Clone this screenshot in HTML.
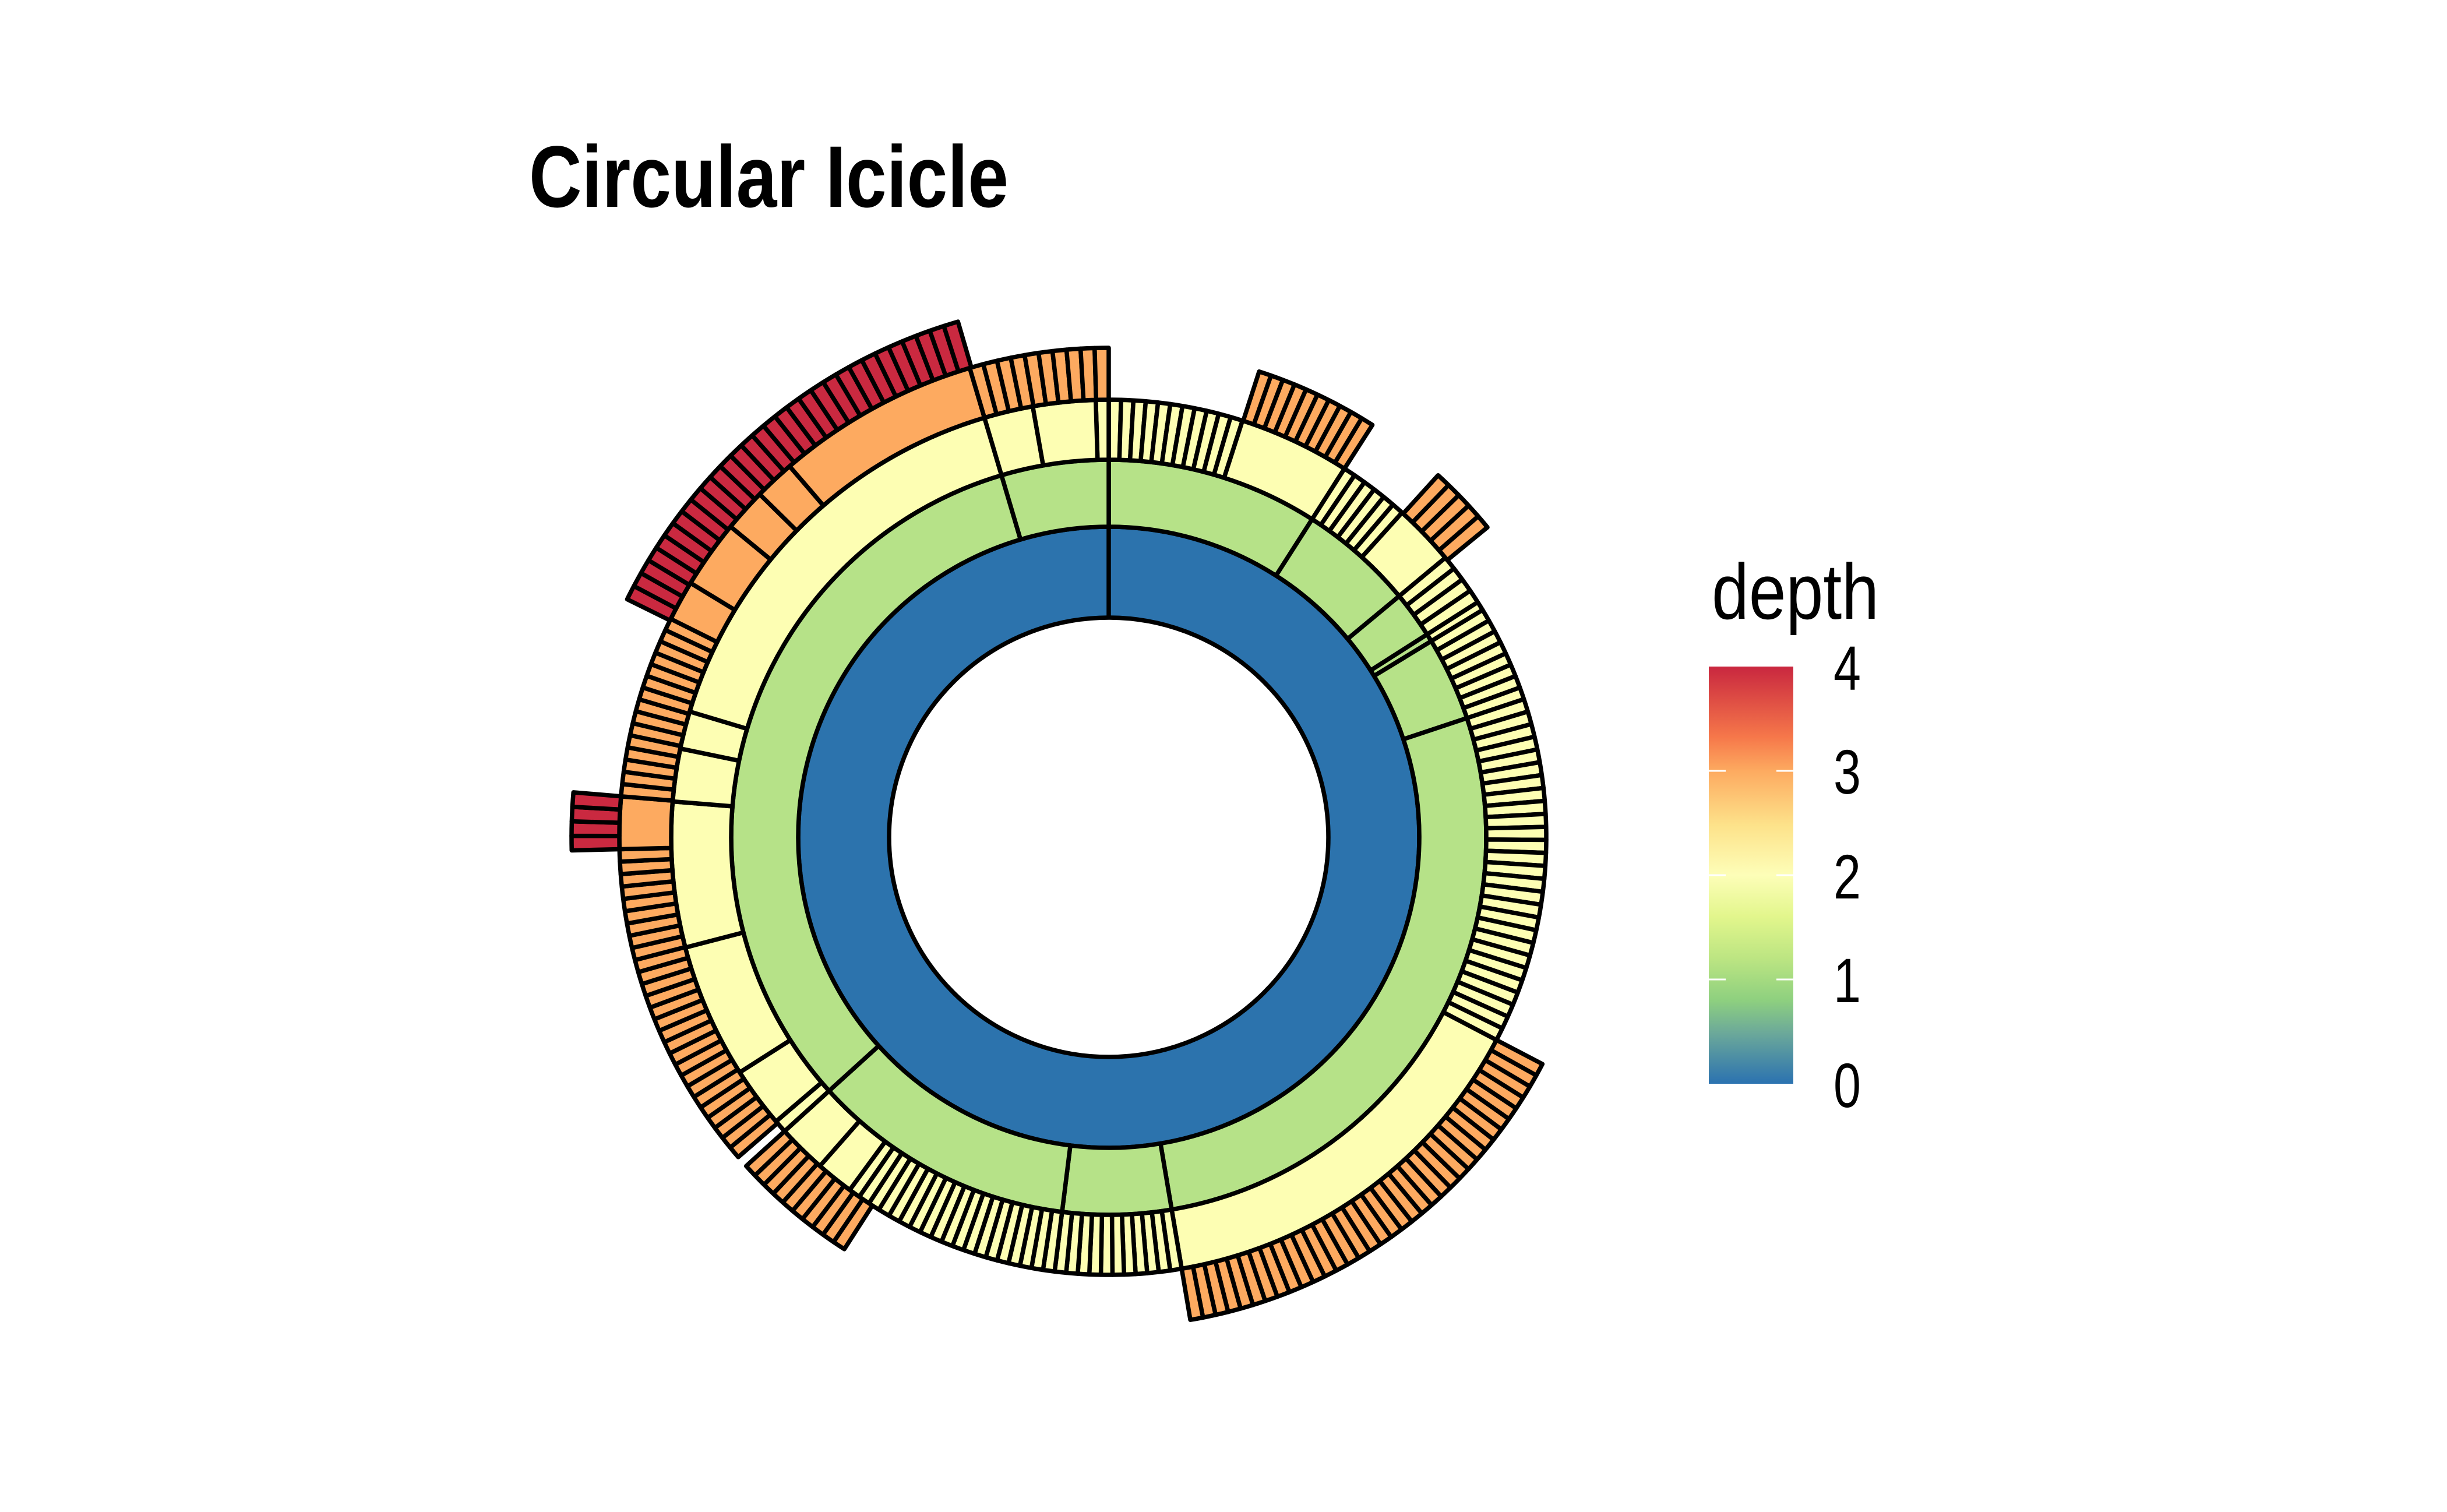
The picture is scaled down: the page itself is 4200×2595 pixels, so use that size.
<!DOCTYPE html>
<html><head><meta charset="utf-8"><style>
html,body{margin:0;padding:0;background:#fff;}
svg{display:block;}
</style></head><body>
<svg id="s" xmlns="http://www.w3.org/2000/svg" width="4200" height="2595" viewBox="0 0 4200 2595">
<defs>
<linearGradient id="lg" x1="0" y1="1" x2="0" y2="0">
<stop offset="0" stop-color="#2B72B0"/>
<stop offset="0.12" stop-color="#6BA89A"/>
<stop offset="0.2" stop-color="#8ED07F"/>
<stop offset="0.3" stop-color="#BCE582"/>
<stop offset="0.4" stop-color="#E2F68C"/>
<stop offset="0.5" stop-color="#FDFEB8"/>
<stop offset="0.62" stop-color="#FDE28A"/>
<stop offset="0.75" stop-color="#FDAA60"/>
<stop offset="0.83" stop-color="#F6784A"/>
<stop offset="1" stop-color="#C9273F"/>
</linearGradient>
</defs>
<rect width="4200" height="2595" fill="#fff"/>
<g id="chart"></g>
<text x="908" y="355" font-family="Liberation Sans, sans-serif" font-weight="bold" font-size="150" textLength="823" lengthAdjust="spacingAndGlyphs">Circular Icicle</text>
<text x="2938" y="1062" font-family="Liberation Sans, sans-serif" font-size="135" textLength="287" lengthAdjust="spacingAndGlyphs">depth</text>
<rect x="2933" y="1144" width="145" height="716" fill="url(#lg)"/>
<g stroke="#fff" stroke-width="3">
<line x1="2933" y1="1323" x2="2962" y2="1323"/><line x1="3049" y1="1323" x2="3078" y2="1323"/>
<line x1="2933" y1="1502" x2="2962" y2="1502"/><line x1="3049" y1="1502" x2="3078" y2="1502"/>
<line x1="2933" y1="1681" x2="2962" y2="1681"/><line x1="3049" y1="1681" x2="3078" y2="1681"/>
</g>
<g font-family="Liberation Sans, sans-serif" font-size="108">
<text x="3147" y="1184" textLength="47" lengthAdjust="spacingAndGlyphs">4</text>
<text x="3147" y="1362" textLength="47" lengthAdjust="spacingAndGlyphs">3</text>
<text x="3147" y="1542" textLength="47" lengthAdjust="spacingAndGlyphs">2</text>
<text x="3147" y="1720" textLength="47" lengthAdjust="spacingAndGlyphs">1</text>
<text x="3147" y="1900" textLength="47" lengthAdjust="spacingAndGlyphs">0</text>
</g>
</svg>
<script>
(function(){
var cx=1903, cy=1437;
var R=[377,533,648,751,840,922];
var C=["#2C73AD","#B6E288","#FDFEB3","#FDAA60","#CA2940"];
var SW=7.5;
function pt(r,a){var t=a*Math.PI/180;return (cx+r*Math.sin(t)).toFixed(2)+","+(cy-r*Math.cos(t)).toFixed(2);}
function wedge(d,a1,a2){
  var r1=R[d],r2=R[d+1];var large=(a2-a1)>180?1:0;
  return "M"+pt(r1,a1)+" L"+pt(r2,a1)+" A"+r2+","+r2+" 0 "+large+" 1 "+pt(r2,a2)+" L"+pt(r1,a2)+" A"+r1+","+r1+" 0 "+large+" 0 "+pt(r1,a1)+" Z";
}
var segs=[
 [1,0,32.6],[1,32.6,50.3],[1,50.3,57.5],[1,57.5,58.7],[1,58.7,71.6],[1,71.6,170.4],[1,170.4,187.1],[1,187.1,227.8],[1,227.8,343.5],[1,343.5,360],
 [2,0,17.8,11],[2,358.3,360,1],[2,17.8,32.6],[2,32.6,42.1,6],[2,42.1,50.3],[2,50.3,57.5,4],[2,57.5,58.7,1],[2,58.7,71.6,8],[2,71.6,117.6,27],
 [2,117.6,170.4],[2,170.4,187.1,11],[2,187.1,216.3,19],[2,216.3,221.3],[2,221.3,227.8],[2,227.8,229.5],[2,229.5,237.5],[2,237.5,255.4],
 [2,255.4,274.7],[2,274.7,281.7],[2,281.7,286.7],[2,286.7,343.5],[2,343.5,350],[2,350,358.3],
 [3,17.9,32.6,10],[3,42.3,50.7,5],[3,117.6,170.4,35],[3,212.7,227.8,10],[3,229.2,268.6,27],[3,268.6,274.8],[3,274.8,296.5,15],
 [3,296.5,301.3],[3,301.3,309.4],[3,309.4,314.5],[3,314.5,319.3],[3,319.3,343.5],[3,343.5,360,10],
 [4,268.6,274.8,4],[4,296.3,343.7,30]
];
var out=[];
out.push('<path d="M'+(cx-R[1])+','+cy+' a'+R[1]+','+R[1]+' 0 1 0 '+(2*R[1])+',0 a'+R[1]+','+R[1]+' 0 1 0 '+(-2*R[1])+',0 Z M'+(cx-R[0])+','+cy+' a'+R[0]+','+R[0]+' 0 1 0 '+(2*R[0])+',0 a'+R[0]+','+R[0]+' 0 1 0 '+(-2*R[0])+',0 Z" fill="'+C[0]+'" fill-rule="evenodd" stroke="#000" stroke-width="'+SW+'"/>');
out.push('<line x1="'+cx+'" y1="'+(cy-R[0])+'" x2="'+cx+'" y2="'+(cy-R[1])+'" stroke="#000" stroke-width="'+SW+'"/>');
segs.forEach(function(s){
  var d=s[0],a1=s[1],a2=s[2],n=s[3]||1;
  var w=(a2-a1)/n;
  for(var i=0;i<n;i++){
    out.push('<path d="'+wedge(d,a1+i*w,a1+(i+1)*w)+'" fill="'+C[d]+'" stroke="#000" stroke-width="'+SW+'" stroke-linejoin="round"/>');
  }
});
document.getElementById("chart").innerHTML=out.join("");
})();
</script>
</body></html>
